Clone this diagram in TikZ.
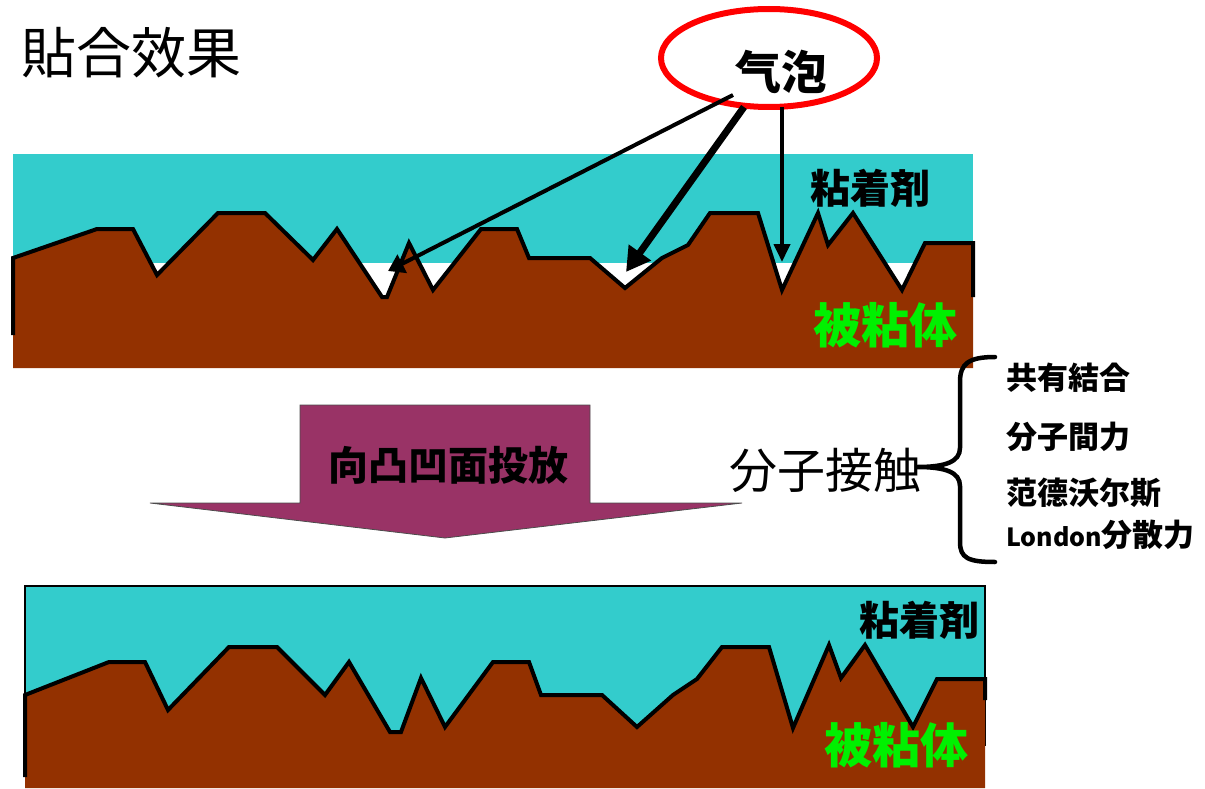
\documentclass[tikz,border=0pt]{standalone}
\usepackage{fontspec}
\setmainfont{Noto Sans CJK JP}
\usetikzlibrary{arrows.meta,shapes.geometric}
\definecolor{glue}{HTML}{33CCCC}
\definecolor{base}{HTML}{933100}
\definecolor{plum}{HTML}{993366}
\definecolor{lime}{HTML}{00F000}
\begin{document}
\begin{tikzpicture}[x=1pt,y=-1pt,
  profile/.style={line width=4pt,line join=miter},
  lbl/.style={inner sep=0pt,font=\bfseries\fontsize{#1}{#1}\selectfont},
  lbl/.default=40,
  ptr/.style={line width=#1}]
\useasboundingbox (0,0) rectangle (1205,789);

% title
\node[inner sep=0pt,font=\fontsize{55}{55}\selectfont] (title) at (131,53) {貼合效果};

% ---- upper panel: adhesive over rough substrate, with trapped air ----
\fill[glue] (13,154) rectangle (973,263);
\fill[base] (13,258) -- (97,229) -- (133,229) -- (157,275) -- (218,213) -- (265,213)
  -- (313,260) -- (337,229) -- (382,297) -- (387,297) -- (409,243) -- (433,290)
  -- (481,229) -- (517,229) -- (529,258) -- (590,258) -- (625,288) -- (662,258)
  -- (688,245) -- (710,213) -- (758,213) -- (782,290) -- (818,213) -- (828,245)
  -- (853,213) -- (902,290) -- (925,243) -- (973,243) -- (973,368) -- (13,368) -- cycle;
\draw[profile] (13,335) -- (13,258) -- (97,229) -- (133,229) -- (157,275) -- (218,213) -- (265,213)
  -- (313,260) -- (337,229) -- (382,297) -- (387,297) -- (409,243) -- (433,290)
  -- (481,229) -- (517,229) -- (529,258) -- (590,258) -- (625,288) -- (662,258)
  -- (688,245) -- (710,213) -- (758,213) -- (782,290) -- (818,213) -- (828,245)
  -- (853,213) -- (902,290) -- (925,243) -- (973,243) -- (973,297);
\node[lbl=40] (adh1) at (870,188) {粘着剤};
\node[lbl=48,text=lime] (sub1) at (885,325) {被粘体};

% bubble callout
\node[ellipse,draw=red,line width=6pt,minimum width=216pt,minimum height=98pt] (ring) at (769,58) {};
\node[lbl=46] (bubble) at (781,72) {气泡};
\coordinate (b1) at (733,95);
\coordinate (b2) at (744,107);
\coordinate (b3) at (782,107);
\coordinate (gap1) at (388,271);
\coordinate (gap2) at (626,272);
\coordinate (gap3) at (782,262);
\draw[ptr=4pt,-{Triangle[length=16pt,width=20pt]}] (b1) -- (gap1);
\draw[ptr=7pt,-{Triangle[length=24pt,width=26pt]}] (b2) -- (gap2);
\draw[ptr=4pt,-{Triangle[length=18pt,width=16pt]}] (b3) -- (gap3);

% ---- process arrow ----
\fill[plum,draw=black!70,line width=0.8pt] (300,405) -- (590,405) -- (590,503) -- (742,503)
  -- (445,538) -- (150,503) -- (300,503) -- cycle;
\node[lbl=40] (press) at (448,465) {向凸凹面投放};

% ---- molecular contact with brace ----
\node[inner sep=0pt,font=\fontsize{48}{48}\selectfont] (contact) at (825,470) {分子接触};
\coordinate (bt) at (995,357);
\coordinate (bm) at (917,467);
\coordinate (bb) at (995,562);
\draw[line width=4.5pt,line cap=round] (bt) .. controls (968,357) and (960,364) .. (960,382)
  -- (960,448) .. controls (960,462) and (945,467) .. (bm)
  .. controls (945,467) and (960,472) .. (960,486)
  -- (960,542) .. controls (960,558) and (968,562) .. (bb);
\node[lbl=31,anchor=west] (k1) at (1006,378) {共有結合};
\node[lbl=31,anchor=west] (k2) at (1006,437) {分子間力};
\node[lbl=31,anchor=west] (k3) at (1006,493) {范德沃尔斯};
\node[lbl=31,anchor=west] (k4) at (1006,535) {{\fontsize{25}{25}\selectfont London}分散力};

% ---- lower panel: adhesive fully wetting the surface ----
\filldraw[fill=glue,draw=black,line width=1.5pt] (25,586) rectangle (985,745);
\fill[base] (25,695) -- (109,662) -- (145,662) -- (168,710) -- (229,647) -- (277,647)
  -- (325,695) -- (349,662) -- (390,732) -- (401,732) -- (421,678) -- (445,727)
  -- (493,662) -- (529,662) -- (541,695) -- (602,695) -- (637,727) -- (673,695)
  -- (697,679) -- (722,647) -- (769,647) -- (793,728) -- (829,645) -- (841,678)
  -- (865,645) -- (913,727) -- (937,679) -- (985,679) -- (985,788) -- (25,788) -- cycle;
\draw[profile] (25,777) -- (25,695) -- (109,662) -- (145,662) -- (168,710) -- (229,647) -- (277,647)
  -- (325,695) -- (349,662) -- (390,732) -- (401,732) -- (421,678) -- (445,727)
  -- (493,662) -- (529,662) -- (541,695) -- (602,695) -- (637,727) -- (673,695)
  -- (697,679) -- (722,647) -- (769,647) -- (793,728) -- (829,645) -- (841,678)
  -- (865,645) -- (913,727) -- (937,679) -- (985,679) -- (985,700);
\node[lbl=40] (adh2) at (919,620) {粘着剤};
\node[lbl=48,text=lime] (sub2) at (896,745) {被粘体};
\end{tikzpicture}
\end{document}
